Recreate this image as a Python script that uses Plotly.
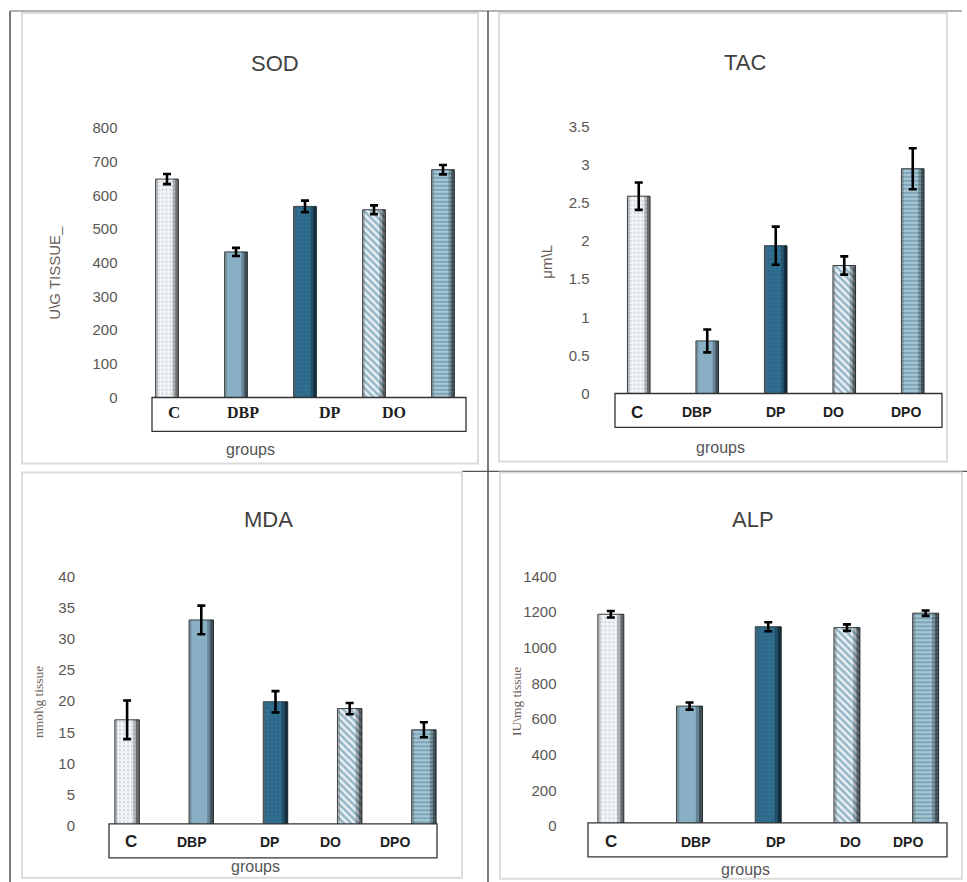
import plotly.graph_objects as go

# ---------------- data ----------------
groups = ["C", "DBP", "DP", "DO", "DPO"]

sod_mean = [648, 432, 567, 557, 676]
sod_err = [15, 12, 17, 13, 14]
sod_ticklabels = ["C", "DBP", "DP", "DO", ""]

tac_mean = [2.59, 0.69, 1.94, 1.68, 2.95]
tac_err = [0.18, 0.15, 0.25, 0.12, 0.27]
tac_ticklabels = ["C", "DBP", "DP", "DO", "DPO"]

mda_mean = [17.0, 33.0, 19.9, 18.8, 15.4]
mda_err = [3.1, 2.3, 1.7, 0.9, 1.2]
mda_ticklabels = ["C", "DBP", "DP", "DO", "DPO"]

alp_mean = [1187, 672, 1117, 1112, 1193]
alp_err = [18, 20, 25, 18, 15]
alp_ticklabels = ["C", "DBP", "DP", "DO", "DPO"]

# ---------------- styling ----------------
W, H = 967, 882
BAR_W = 0.33
Y_OFF, Y_SCALE = 8.0, 0.982   # compensation for page vertical placement


def px(x):
    return x / W


def py(y):
    return 1 - ((y - Y_OFF) / Y_SCALE) / H


bar_styles = [
    dict(color="#f3f5f6", pattern=dict(shape=".", fgcolor="#9fb6c6", size=4, solidity=0.25)),
    dict(color="#88afc4", pattern=dict(shape="", fgcolor="#6f9bb3")),
    dict(color="#2a6788", pattern=dict(shape="+", fgcolor="#4e8eac", size=4, solidity=0.25)),
    dict(color="#eaf1f5", pattern=dict(shape="\\", fgcolor="#3d7b99", size=5, solidity=0.5)),
    dict(color="#a8c6d4", pattern=dict(shape="-", fgcolor="#3b7792", size=4, solidity=0.4)),
]
# cylinder shading strips (offset from bar left edge, width, colour)
shade_strips = [
    (0.0, 0.035, "rgba(90,90,90,0.35)"),
    (BAR_W - 0.085, 0.04, "rgba(0,0,0,0.25)"),
    (BAR_W - 0.045, 0.045, "rgba(0,0,0,0.55)"),
]

panels = [
    dict(name="SOD", mean=sod_mean, err=sod_err, labels=sod_ticklabels,
         yrange=[0, 800], dtick=100, x0=132.5, x1=477.5, ybot=397, ytop=127,
         title_xy=(275, 63), box=(152, 466, 397, 431), label_y=412,
         label_off=[0.1, 0.1, 0.36, 0.29, 0.0], label_font="Liberation Serif", label_size=16,
         label_bold=True, c_size=17, groups_xy=(250, 449),
         ytitle="U\\G TISSUE_", ytitle_xy=(55, 272), ytitle_font="Liberation Sans", ytitle_size=15,
         inner=(22, 478, 12, 463)),
    dict(name="TAC", mean=tac_mean, err=tac_err, labels=tac_ticklabels,
         yrange=[0, 3.5], dtick=0.5, x0=604.5, x1=947, ybot=393, ytop=126,
         title_xy=(745, 62), box=(615, 942, 393, 427), label_y=412,
         label_off=[-0.03, -0.15, 0.0, -0.15, -0.1], label_font="Liberation Sans", label_size=14,
         label_bold=True, c_size=17, groups_xy=(720, 447),
         ytitle="μm\\L", ytitle_xy=(547, 261), ytitle_font="Liberation Sans", ytitle_size=15,
         inner=(499, 947, 12, 461)),
    dict(name="MDA", mean=mda_mean, err=mda_err, labels=mda_ticklabels,
         yrange=[0, 40], dtick=5, x0=90, x1=461, ybot=826, ytop=576,
         title_xy=(268, 519), box=(109, 437, 824, 858), label_y=842,
         label_off=[0.05, -0.13, -0.08, -0.26, -0.39], label_font="Liberation Sans", label_size=14,
         label_bold=True, c_size=17, groups_xy=(255, 867),
         ytitle="nmol\\g tissue", ytitle_xy=(38, 702), ytitle_font="Liberation Serif", ytitle_size=13.5,
         inner=(22, 462, 472, 878)),
    dict(name="ALP", mean=alp_mean, err=alp_err, labels=alp_ticklabels,
         yrange=[0, 1400], dtick=200, x0=571.5, x1=965, ybot=826, ytop=576,
         title_xy=(753, 519), box=(588, 947, 823, 857), label_y=842,
         label_off=[0.0, 0.08, 0.09, 0.04, -0.23], label_font="Liberation Sans", label_size=14,
         label_bold=True, c_size=17, groups_xy=(745, 870),
         ytitle="IU\\mg tissue", ytitle_xy=(516, 702), ytitle_font="Liberation Serif", ytitle_size=13.5,
         inner=(500, 962, 472, 879)),
]

fig = go.Figure()
annotations = []
shapes = []

# outer frame lines
frame = [
    (10, 10, 962, 10, "#9a9a9a"),
    (10, 10, 10, 890, "#333333"),
    (488, 10, 488, 890, "#333333"),
    (462, 471, 967, 471, "#555555"),
]
for x0, y0, x1, y1, c in frame:
    shapes.append(dict(type="line", xref="paper", yref="paper", x0=px(x0), y0=py(y0),
                       x1=px(x1), y1=py(y1), line=dict(color=c, width=1.3), layer="below"))

for i, p in enumerate(panels):
    n = i + 1
    xa = "x" if n == 1 else f"x{n}"
    ya = "y" if n == 1 else f"y{n}"
    for j, g in enumerate(groups):
        st = bar_styles[j]
        fig.add_trace(go.Bar(
            x=[j], y=[p["mean"][j]], xaxis=xa, yaxis=ya, width=BAR_W,
            marker=dict(color=st["color"], pattern=st["pattern"],
                        line=dict(color="#3a3f44", width=1.0)),
            showlegend=False, hoverinfo="y", name=g,
        ))
        for off, w, col in shade_strips:
            fig.add_trace(go.Bar(
                x=[j], y=[p["mean"][j]], xaxis=xa, yaxis=ya, width=w,
                offset=-BAR_W / 2 + off,
                marker=dict(color=col, line=dict(width=0)),
                showlegend=False, hoverinfo="skip",
            ))
        # error bar drawn on an invisible bar on top
        fig.add_trace(go.Bar(
            x=[j], y=[p["mean"][j]], xaxis=xa, yaxis=ya, width=BAR_W,
            marker=dict(color="rgba(0,0,0,0)", line=dict(width=0)),
            error_y=dict(type="data", array=[p["err"][j]], color="black", thickness=2.6, width=4),
            showlegend=False, hoverinfo="skip",
        ))
    fig.layout[f"xaxis{'' if n == 1 else n}"] = dict(
        domain=[px(p["x0"]), px(p["x1"])], range=[-0.5, 4.5], anchor=ya,
        showticklabels=False, showgrid=False, zeroline=False, showline=False, fixedrange=True)
    fig.layout[f"yaxis{'' if n == 1 else n}"] = dict(
        domain=[py(p["ybot"]), py(p["ytop"])], range=p["yrange"], dtick=p["dtick"], anchor=xa,
        showgrid=False, zeroline=False, showline=False, ticks="",
        ticklabelstandoff=14,
        tickfont=dict(family="Liberation Sans", size=15, color="#5c5652"), fixedrange=True)

    # inner light gray box
    ix0, ix1, iy0, iy1 = p["inner"]
    shapes.append(dict(type="rect", xref="paper", yref="paper", x0=px(ix0), x1=px(ix1),
                       y0=py(iy1), y1=py(iy0), line=dict(color="#dcdcdc", width=2),
                       layer="below"))
    # category box
    bx0, bx1, by0, by1 = p["box"]
    shapes.append(dict(type="rect", xref="paper", yref="paper", x0=px(bx0), x1=px(bx1),
                       y0=py(by1), y1=py(by0), line=dict(color="#333333", width=1.3),
                       fillcolor="white", layer="above"))
    # category labels
    for j, lab in enumerate(p["labels"]):
        if not lab:
            continue
        is_c = (lab == "C")
        bold = p["label_bold"] or is_c
        annotations.append(dict(
            text=(f"<b>{lab}</b>" if bold else lab),
            xref=xa, yref="paper", x=j + p["label_off"][j], y=py(p["label_y"]),
            showarrow=False, xanchor="center", yanchor="middle",
            font=dict(family=p["label_font"],
                      size=(p["c_size"] if is_c else p["label_size"]),
                      color="#1e1e1e")))
    # title
    tx, ty = p["title_xy"]
    annotations.append(dict(text=p["name"], xref="paper", yref="paper", x=px(tx), y=py(ty),
                            showarrow=False, xanchor="center", yanchor="middle",
                            font=dict(family="Liberation Sans", size=22, color="#404040")))
    # groups
    gx, gy = p["groups_xy"]
    annotations.append(dict(text="groups", xref="paper", yref="paper", x=px(gx), y=py(gy),
                            showarrow=False, xanchor="center", yanchor="middle",
                            font=dict(family="Liberation Sans", size=16, color="#555555")))
    # y-axis title
    yx, yy = p["ytitle_xy"]
    annotations.append(dict(text=p["ytitle"], xref="paper", yref="paper", x=px(yx), y=py(yy),
                            showarrow=False, xanchor="center", yanchor="middle", textangle=-90,
                            font=dict(family=p["ytitle_font"], size=p["ytitle_size"],
                                      color="#6a5d58")))

fig.update_layout(
    width=W, height=H, margin=dict(l=0, r=0, t=0, b=0, pad=0), autosize=False,
    paper_bgcolor="white", plot_bgcolor="rgba(0,0,0,0)",
    annotations=annotations, shapes=shapes, barmode="overlay",
)

fig.write_html(
    "out.html",
    config={"displayModeBar": False},
    post_script=(
        "document.documentElement.style.overflow='hidden';"
        "document.body.style.margin='0';document.body.style.overflow='hidden';"
        "var d=document.querySelector('.plotly-graph-div');"
        "d.style.position='fixed';d.style.top='0px';d.style.left='0px';"
    ),
)
